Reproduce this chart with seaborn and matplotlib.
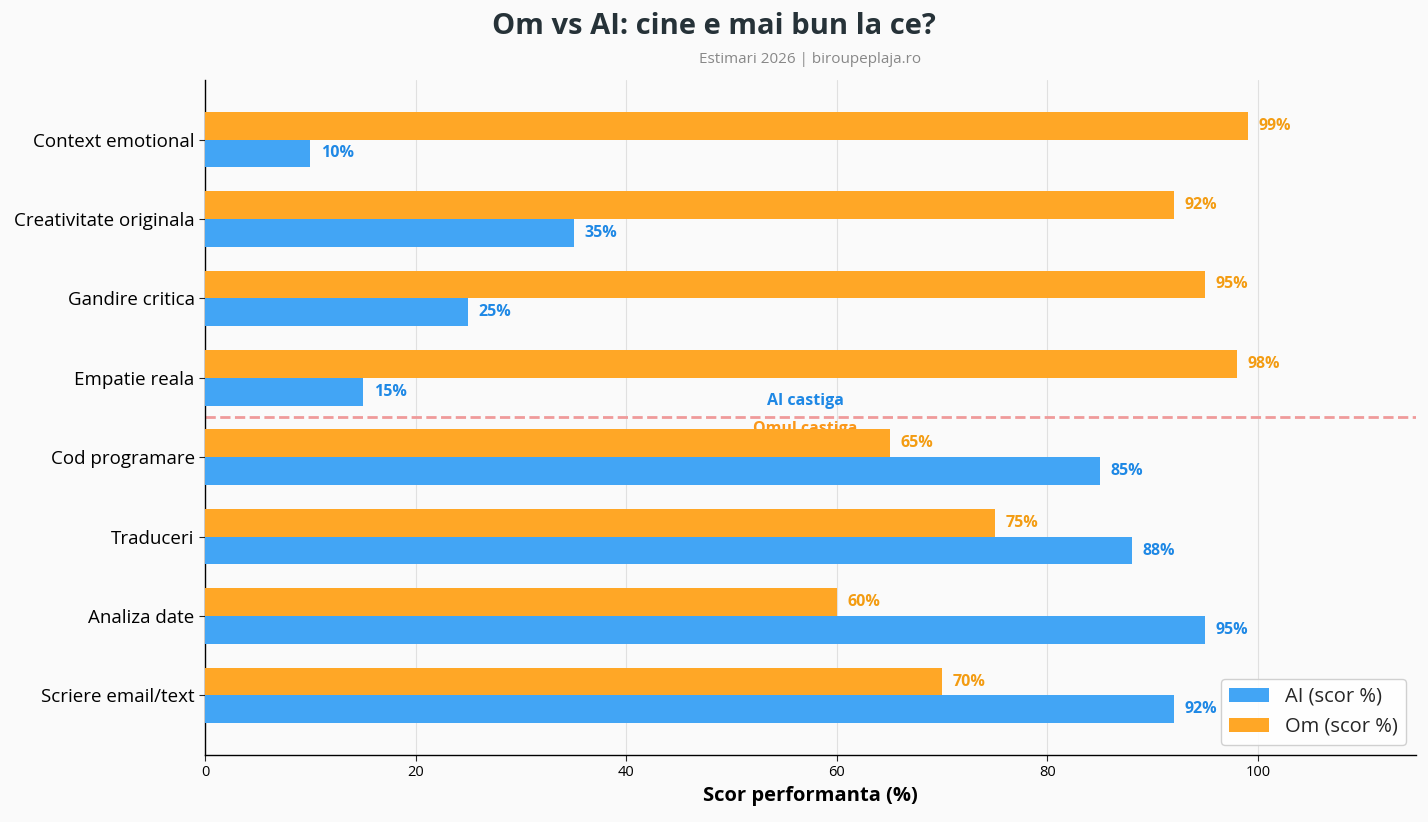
import matplotlib
matplotlib.use("Agg")
import matplotlib.pyplot as plt
import pandas as pd
import seaborn as sns

# date (de sus in jos)
categorii = ["Context emotional", "Creativitate originala", "Gandire critica", "Empatie reala",
             "Cod programare", "Traduceri", "Analiza date", "Scriere email/text"]
scor_ai = [10, 35, 25, 15, 85, 88, 95, 92]
scor_om = [99, 92, 95, 98, 65, 75, 60, 70]

serie_ai = "AI (scor %)"
serie_om = "Om (scor %)"

df = pd.concat([
    pd.DataFrame({"categorie": categorii, "scor": scor_ai, "serie": serie_ai}),
    pd.DataFrame({"categorie": categorii, "scor": scor_om, "serie": serie_om}),
])

sns.set_style("white")
plt.rcParams['font.family'] = ['Open Sans', 'DejaVu Sans']

fig = plt.figure(figsize=(14.28, 8.22), dpi=100, facecolor="#FAFAFA")
ax = fig.add_axes([0.1436, 0.0815, 0.848, 0.8212])
ax.set_facecolor("#FAFAFA")

sns.barplot(data=df, x="scor", y="categorie", hue="serie", order=categorii,
            hue_order=[serie_om, serie_ai], orient="h", width=0.7,
            palette={serie_ai: "#42A5F5", serie_om: "#FFA726"}, saturation=1,
            linewidth=0, ax=ax, zorder=3)

# etichete cu valori
for cont, culoare in zip(ax.containers, ["#F39C12", "#1E88E5"]):
    for bar in cont:
        w = bar.get_width()
        ax.text(w + 1, bar.get_y() + bar.get_height() / 2, f"{w:.0f}%",
                va="center", ha="left", fontsize=11.5, fontweight="bold", color=culoare, zorder=4)

# linia de separare
ax.axhline(3.5, color="#EF9A9A", linestyle="--", linewidth=2, zorder=2)
ax.text(57, 3.29, "AI castiga", color="#1E88E5", fontsize=11.5, fontweight="bold", ha="center", va="center")
ax.text(57, 3.65, "Omul castiga", color="#FB8C00", fontsize=11.5, fontweight="bold", ha="center", va="center",
        alpha=0.9, zorder=2)

ax.set_xlim(0, 115)
ax.set_ylim(7.75, -0.75)
ax.set_xticks([0, 20, 40, 60, 80, 100])
ax.xaxis.grid(True, color="#E0E0E0", linewidth=0.8, zorder=0)
ax.set_axisbelow(True)
ax.set_ylabel("")
ax.set_xlabel("Scor performanta (%)", fontsize=14.5, fontweight="bold", color="black")
ax.tick_params(axis="y", labelsize=13.5, length=4, left=True, labelcolor="black")
ax.tick_params(axis="x", labelsize=10.5, length=4, bottom=True, labelcolor="black")
for s in ["top", "right"]:
    ax.spines[s].set_visible(False)
for s in ["left", "bottom"]:
    ax.spines[s].set_color("black")
    ax.spines[s].set_linewidth(1)

h, l = ax.get_legend_handles_labels()
ax.legend([h[1], h[0]], [l[1], l[0]], loc="lower right", fontsize=14.5, frameon=True,
          facecolor="white", edgecolor="#CCCCCC", framealpha=0.9)

fig.suptitle("Om vs AI: cine e mai bun la ce?", fontsize=21, fontweight="bold", color="#263238", y=0.985)
ax.set_title("Estimari 2026 | biroupeplaja.ro", fontsize=11, color="#888888", pad=12)

fig.savefig("out.png", dpi=100, facecolor=fig.get_facecolor())
